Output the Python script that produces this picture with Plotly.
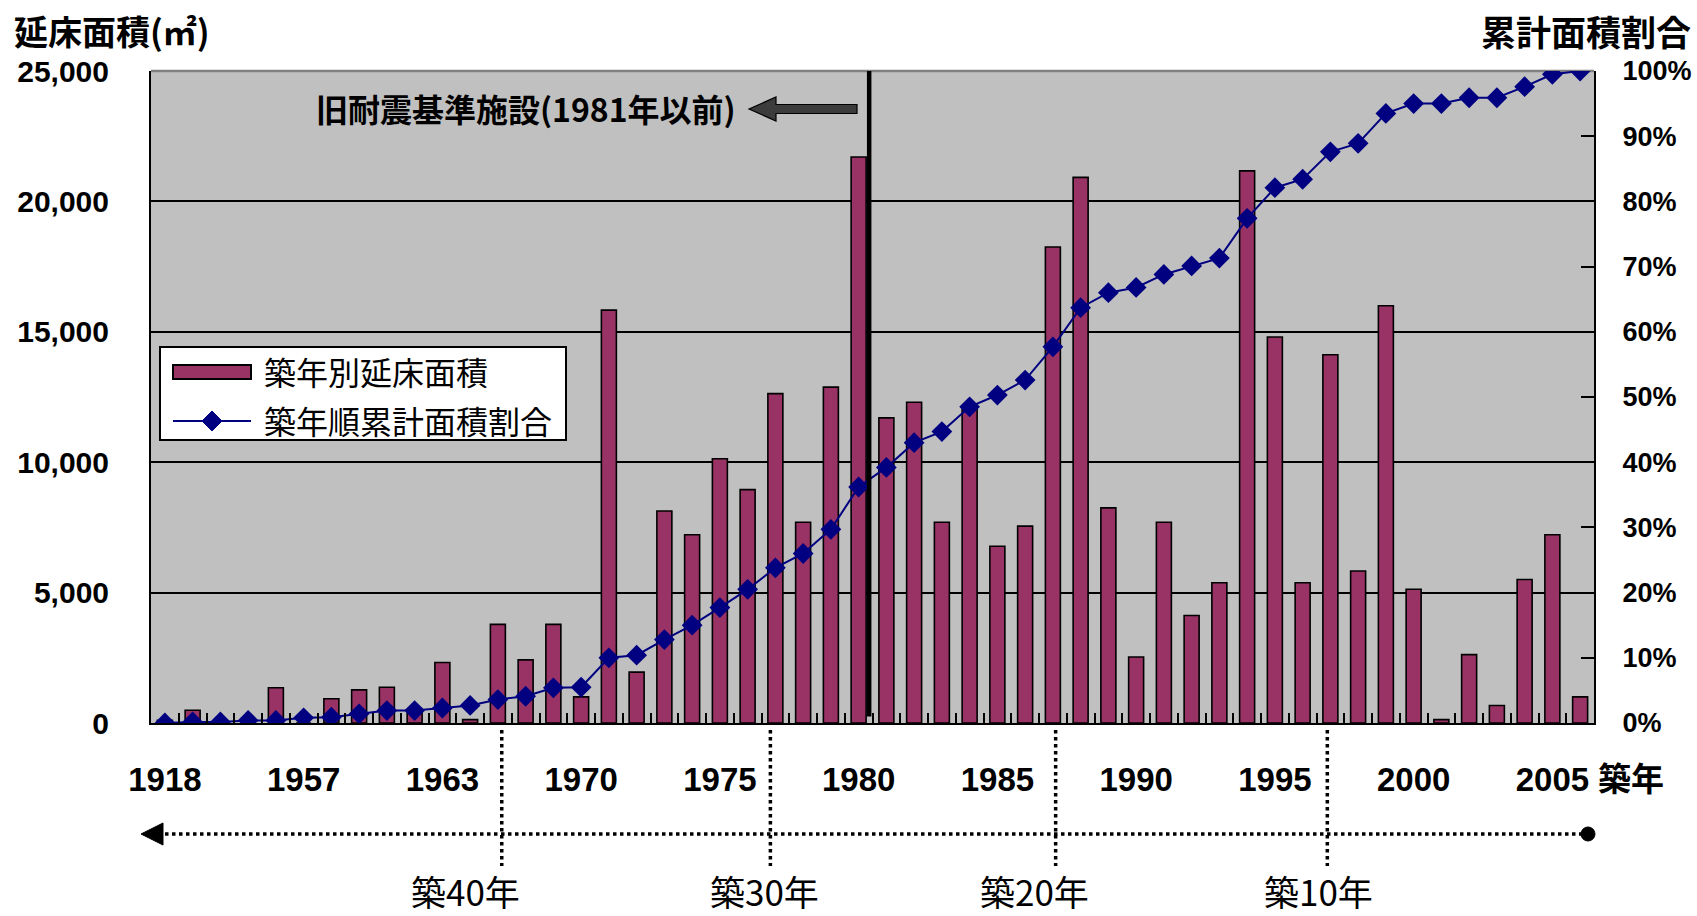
import plotly.graph_objects as go

# ---- data -------------------------------------------------------------
categories = [
    "1918", "1950", "1952", "1954", "1956", "1957", "1958", "1959", "1960", "1962",
    "1963", "1965", "1966", "1967", "1969", "1970", "1971", "1972", "1973", "1974",
    "1975", "1976", "1977", "1978", "1979", "1980", "1981", "1982", "1983", "1984",
    "1985", "1986", "1987", "1988", "1989", "1990", "1991", "1992", "1993", "1994",
    "1995", "1996", "1997", "1998", "1999", "2000", "2001", "2002", "2003", "2004",
    "2005", "2006",
]

# floor area built per year (m2)
floor_area = [
    100, 490, 0, 0, 1350, 0, 930, 1270, 1370, 500,
    2320, 130, 3780, 2420, 3780, 1000, 15830, 1950, 8130, 7220,
    10130, 8950, 12630, 7700, 12880, 21700, 11700, 12300, 7700, 12080,
    6780, 7550, 18250, 20920, 8250, 2530, 7700, 4120, 5380, 21170,
    14800, 5380, 14120, 5830, 16000, 5130, 130, 2620, 670, 5500,
    7220, 1000,
]

# cumulative share of floor area by year of construction (%)
cum_share = [
    0.0, 0.15, 0.15, 0.4, 0.4, 0.8, 0.9, 1.4, 1.9, 1.9,
    2.3, 2.7, 3.6, 4.1, 5.4, 5.5, 10.0, 10.4, 12.8, 15.0,
    17.7, 20.5, 23.8, 26.0, 29.7, 36.2, 39.2, 43.0, 44.7, 48.5,
    50.3, 52.6, 57.7, 63.7, 66.0, 66.8, 68.8, 70.1, 71.3, 77.4,
    82.1, 83.4, 87.6, 88.9, 93.5, 95.0, 95.0, 95.9, 95.9, 97.6,
    99.5, 100.0,
]

tick_years = ["1918", "1957", "1963", "1970", "1975", "1980",
              "1985", "1990", "1995", "2000", "2005"]

age_labels = ["築40年", "築30年", "築20年", "築10年"]
age_marks = [12.14, 21.82, 32.1, 41.89]      # position on the year axis
age_label_x = [465, 764, 1034, 1318]         # label centres (px)

old_code_boundary = 25.38                      # 1981 code change

# ---- page geometry ------------------------------------------------------
W, H = 1697, 916
PL, PR, PT, PB = 151, 1594, 71, 723


def px(x):
    return (x - PL) / (PR - PL)


def py(y):
    return (PB - y) / (PB - PT)


JP = "Noto Sans CJK JP"
NUM = "Liberation Sans, Arial, sans-serif"
BAR = "#993366"
LINE = "#000080"

fig = go.Figure()

fig.add_trace(go.Bar(
    x=categories, y=floor_area, name="築年別延床面積",
    marker=dict(color=BAR, line=dict(color="black", width=1.6)),
    showlegend=False, yaxis="y",
))

fig.add_trace(go.Scatter(
    x=categories, y=cum_share, name="築年順累計面積割合",
    mode="lines+markers",
    line=dict(color=LINE, width=2),
    marker=dict(symbol="diamond", size=16, color=LINE),
    showlegend=False, yaxis="y2",
))

# empty trace carrying the category-boundary tick marks
fig.add_trace(go.Scatter(x=[], y=[], xaxis="x2", yaxis="y",
                         showlegend=False, hoverinfo="skip"))

n = len(categories)

fig.update_layout(
    width=W, height=H,
    margin=dict(l=PL, r=W - PR, t=PT, b=H - PB, autoexpand=False),
    paper_bgcolor="white",
    plot_bgcolor="#c0c0c0",
    bargap=0.46,
    xaxis=dict(
        type="category", range=[-0.5, n - 0.5], automargin=False,
        tickmode="array", tickvals=tick_years, ticktext=tick_years,
        ticks="", showline=True, linecolor="black", linewidth=2,
        showgrid=False,
        tickfont=dict(family=NUM, size=33, color="black", weight="bold"),
        ticklabelstandoff=26,
    ),
    xaxis2=dict(
        overlaying="x", anchor="y", range=[-0.5, n - 0.5], automargin=False,
        tickmode="array", tickvals=[i + 0.5 for i in range(n - 1)],
        ticks="inside", ticklen=10, tickwidth=1.5, tickcolor="black",
        showticklabels=False, showgrid=False, showline=False, zeroline=False,
    ),
    yaxis=dict(
        range=[0, 25000], dtick=5000, tickformat=",", automargin=False,
        showgrid=True, gridcolor="black", gridwidth=1.5,
        zeroline=False, showline=True, linecolor="black", linewidth=2,
        ticks="inside", ticklen=12, tickwidth=1.5, tickcolor="black",
        tickfont=dict(family=NUM, size=30, color="black", weight="bold"),
        ticklabelstandoff=34,
    ),
    yaxis2=dict(
        overlaying="y", side="right", range=[0, 100], dtick=10, automargin=False,
        ticksuffix="%", showgrid=False, zeroline=False,
        showline=True, linecolor="black", linewidth=2,
        ticks="inside", ticklen=13, tickwidth=1.5, tickcolor="black",
        tickfont=dict(family=NUM, size=27, color="black", weight="bold"),
        ticklabelstandoff=21,
    ),
)

shapes = []

# top frame edge
shapes.append(dict(type="line", xref="paper", yref="paper", x0=0, x1=1, y0=1, y1=1,
                   line=dict(color="#808080", width=2.5), layer="between"))

# 1981 boundary line
shapes.append(dict(type="line", xref="x", yref="paper",
                   x0=old_code_boundary, x1=old_code_boundary, y0=0.01, y1=1,
                   line=dict(color="black", width=4.5), layer="above"))

# block arrow pointing left beside the boundary note
tip_x, tail_x, ay_ = 749, 857, 109
head_x = tip_x + 27
arrow_path = (
    f"M {px(tip_x)} {py(ay_)} "
    f"L {px(head_x)} {py(ay_ - 12)} L {px(head_x)} {py(ay_ - 4.5)} "
    f"L {px(tail_x)} {py(ay_ - 4.5)} L {px(tail_x)} {py(ay_ + 4.5)} "
    f"L {px(head_x)} {py(ay_ + 4.5)} L {px(head_x)} {py(ay_ + 12)} Z"
)
shapes.append(dict(type="path", xref="paper", yref="paper", path=arrow_path,
                   fillcolor="#3c3c3c", line=dict(color="black", width=1.2),
                   layer="above"))

# legend box
shapes.append(dict(type="rect", xref="paper", yref="paper",
                   x0=px(160), x1=px(566), y0=py(440), y1=py(347),
                   fillcolor="white", line=dict(color="black", width=2),
                   layer="above"))
shapes.append(dict(type="rect", xref="paper", yref="paper",
                   x0=px(173), x1=px(251), y0=py(379), y1=py(365),
                   fillcolor=BAR, line=dict(color="black", width=2), layer="above"))
shapes.append(dict(type="line", xref="paper", yref="paper",
                   x0=px(173), x1=px(251), y0=py(421), y1=py(421),
                   line=dict(color=LINE, width=2), layer="above"))
dcx, dcy, dr = 212, 421, 10
shapes.append(dict(type="path", xref="paper", yref="paper",
                   path=(f"M {px(dcx - dr)} {py(dcy)} L {px(dcx)} {py(dcy - dr)} "
                         f"L {px(dcx + dr)} {py(dcy)} L {px(dcx)} {py(dcy + dr)} Z"),
                   fillcolor=LINE, line=dict(color=LINE, width=1), layer="above"))

# building-age guide: vertical dotted marks
for xm in age_marks:
    shapes.append(dict(type="line", xref="x", yref="paper", x0=xm, x1=xm,
                       y0=py(730), y1=py(866),
                       line=dict(color="black", width=3.5, dash="dot")))

# horizontal dotted timeline with arrow head and end dot
shapes.append(dict(type="line", xref="paper", yref="paper",
                   x0=px(158), x1=px(1586), y0=py(834), y1=py(834),
                   line=dict(color="black", width=3.5, dash="dot")))
shapes.append(dict(type="path", xref="paper", yref="paper",
                   path=(f"M {px(141)} {py(834)} L {px(163)} {py(823)} "
                         f"L {px(163)} {py(845)} Z"),
                   fillcolor="black", line=dict(color="black", width=1)))
shapes.append(dict(type="circle", xref="paper", yref="paper",
                   x0=px(1581), x1=px(1595), y0=py(841), y1=py(827),
                   fillcolor="black", line=dict(color="black", width=1)))

fig.update_layout(shapes=shapes)

ann = []
ann.append(dict(xref="paper", yref="paper", x=px(12), y=py(30),
                xanchor="left", yanchor="middle", showarrow=False,
                text="延床面積(㎡)",
                font=dict(family=JP, size=34, color="black", weight="bold")))
ann.append(dict(xref="paper", yref="paper", x=px(1693), y=py(30),
                xanchor="right", yanchor="middle", showarrow=False,
                text="累計面積割合",
                font=dict(family=JP, size=35, color="black", weight="bold")))
ann.append(dict(xref="paper", yref="paper", x=px(1596), y=py(777),
                xanchor="left", yanchor="middle", showarrow=False,
                text="築年",
                font=dict(family=JP, size=33, color="black", weight="bold")))
ann.append(dict(xref="paper", yref="paper", x=px(314), y=py(108),
                xanchor="left", yanchor="middle", showarrow=False,
                text="旧耐震基準施設(1981年以前)",
                font=dict(family=JP, size=32, color="black", weight="bold")))
ann.append(dict(xref="paper", yref="paper", x=px(262), y=py(371),
                xanchor="left", yanchor="middle", showarrow=False,
                text="築年別延床面積",
                font=dict(family=JP, size=32, color="black")))
ann.append(dict(xref="paper", yref="paper", x=px(262), y=py(420),
                xanchor="left", yanchor="middle", showarrow=False,
                text="築年順累計面積割合",
                font=dict(family=JP, size=32, color="black")))
for lab, xc in zip(age_labels, age_label_x):
    ann.append(dict(xref="paper", yref="paper", x=px(xc), y=py(890),
                    xanchor="center", yanchor="middle", showarrow=False,
                    text=lab, font=dict(family=JP, size=35, color="black")))

fig.update_layout(annotations=ann)

fig.write_html("out.html")
